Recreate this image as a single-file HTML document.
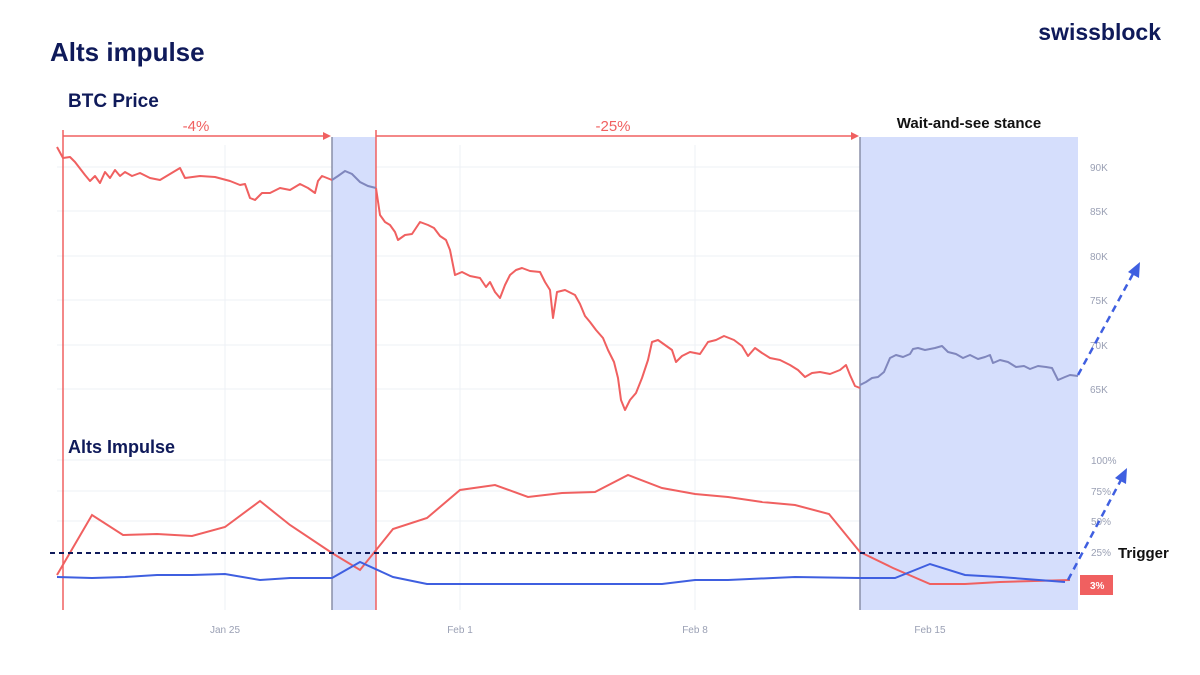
<!DOCTYPE html>
<html><head><meta charset="utf-8"><style>
body{margin:0;background:#fff;}
svg{display:block;font-family:"Liberation Sans",sans-serif;}
</style></head><body>
<svg width="1200" height="675" viewBox="0 0 1200 675">
<rect width="1200" height="675" fill="#fff"/>
<!-- grid -->
<g stroke="#eef0f5" stroke-width="1">
<line x1="57" y1="167" x2="1078" y2="167"/><line x1="57" y1="211" x2="1078" y2="211"/>
<line x1="57" y1="256" x2="1078" y2="256"/><line x1="57" y1="300" x2="1078" y2="300"/>
<line x1="57" y1="345" x2="1078" y2="345"/><line x1="57" y1="389" x2="1078" y2="389"/>
<line x1="57" y1="460" x2="1078" y2="460"/><line x1="57" y1="491" x2="1078" y2="491"/>
<line x1="57" y1="521" x2="1078" y2="521"/>
<line x1="225" y1="145" x2="225" y2="610"/><line x1="460" y1="145" x2="460" y2="610"/>
<line x1="695" y1="145" x2="695" y2="610"/><line x1="930" y1="145" x2="930" y2="610"/>
</g>
<!-- bands -->
<rect x="332" y="137" width="44" height="473" fill="#d5defc"/>
<rect x="860" y="137" width="218" height="473" fill="#d5defc"/>
<line x1="332" y1="137" x2="332" y2="610" stroke="#8a8fa8" stroke-width="1.5"/>
<line x1="860" y1="137" x2="860" y2="610" stroke="#8a8fa8" stroke-width="1.5"/>
<line x1="63" y1="130" x2="63" y2="610" stroke="#f06060" stroke-width="1.5"/>
<line x1="376" y1="130" x2="376" y2="610" stroke="#f06060" stroke-width="1.5"/>
<!-- top arrows -->
<g stroke="#f06060" stroke-width="1.5" fill="#f06060">
<line x1="63" y1="136" x2="326" y2="136"/><path d="M331,136 l-8,-4 v8z" stroke="none"/>
<line x1="376" y1="136" x2="854" y2="136"/><path d="M859,136 l-8,-4 v8z" stroke="none"/>
</g>
<text x="196" y="131" fill="#f06060" font-size="15" text-anchor="middle">-4%</text>
<text x="613" y="131" fill="#f06060" font-size="15" text-anchor="middle">-25%</text>
<!-- price line -->
<polyline fill="none" stroke="#f06060" stroke-width="2" stroke-linejoin="round" points="57,147 63,158 70,157 75,162 85,175 90,181 95,176 100,183 105,172 110,178 115,170 120,176 125,172 132,176 140,173 150,178 160,180 170,174 180,168 185,178 200,176 215,177 230,181 240,185 245,184 250,198 255,200 262,193 270,193 280,188 290,190 300,184 308,188 315,193 318,181 322,176 332,180"/>
<polyline fill="none" stroke="#8087bd" stroke-width="2" points="332,180 338,176 345,171 352,174 360,182 368,186 376,188"/>
<polyline fill="none" stroke="#f06060" stroke-width="2" stroke-linejoin="round" points="376,188 380,215 385,222 390,225 395,232 398,240 405,235 412,234 420,222 428,225 434,228 440,236 446,240 450,250 455,275 462,272 470,276 480,278 486,287 490,282 495,292 500,298 505,285 510,275 516,270 522,268 530,271 540,272 545,282 550,290 553,318 557,292 565,290 575,295 580,304 585,316 590,322 596,330 603,338 608,350 614,362 618,378 621,400 625,410 630,400 636,393 642,378 648,360 652,342 658,340 665,345 672,350 676,362 682,356 690,352 700,354 708,342 716,340 724,336 734,340 742,346 748,356 755,348 762,353 770,358 780,360 790,365 798,370 805,377 812,373 820,372 830,374 840,370 846,365 850,375 855,386 860,388"/>
<polyline fill="none" stroke="#8087bd" stroke-width="2" stroke-linejoin="round" points="860,385 866,382 872,378 878,377 884,372 890,358 896,355 903,357 910,354 913,349 918,348 925,350 935,348 942,346 948,352 956,354 963,358 970,355 978,359 985,357 990,355 993,363 1000,360 1008,362 1016,367 1024,366 1030,369 1038,366 1046,367 1052,368 1058,380 1065,377 1070,375 1078,376"/>
<!-- right axis labels -->
<g fill="#9aa0b4" font-size="10">
<text x="1090" y="171">90K</text><text x="1090" y="215">85K</text><text x="1090" y="260">80K</text>
<text x="1090" y="304">75K</text><text x="1090" y="349">70K</text><text x="1090" y="393">65K</text>
<text x="1091" y="464">100%</text><text x="1091" y="495">75%</text><text x="1091" y="525">50%</text><text x="1091" y="556">25%</text>
<text x="225" y="633" text-anchor="middle">Jan 25</text><text x="460" y="633" text-anchor="middle">Feb 1</text>
<text x="695" y="633" text-anchor="middle">Feb 8</text><text x="930" y="633" text-anchor="middle">Feb 15</text>
</g>
<!-- impulse -->
<polyline fill="none" stroke="#f06060" stroke-width="2" points="57,575 92,515 123,535 157,534 192,536 225,527 260,501 290,525 332,553 360,570 393,529 427,518 460,490 495,485 528,497 562,493 595,492 628,475 662,488 695,494 728,497 762,502 795,505 829,514 860,552 893,568 930,584 965,584 1000,582 1070,580"/>
<polyline fill="none" stroke="#3f5fe0" stroke-width="2" points="57,577 92,578 125,577 157,575 192,575 225,574 260,580 290,578 332,578 360,562 393,577 427,584 460,584 662,584 695,580 728,580 795,577 860,578 895,578 930,564 965,575 1000,577 1065,582"/>
<line x1="50" y1="553" x2="1080" y2="553" stroke="#0f1a5a" stroke-width="2" stroke-dasharray="5,4"/>
<rect x="1080" y="575" width="33" height="20" fill="#f06060"/>
<text x="1090" y="589" fill="#fff" font-size="10" font-weight="bold">3%</text>
<text x="1118" y="558" fill="#111" font-size="15" font-weight="bold">Trigger</text>
<!-- dashed arrows -->
<g stroke="#3f5fe0" stroke-width="2.5" stroke-dasharray="7,5" fill="none">
<line x1="1078" y1="375" x2="1134" y2="272"/>
<line x1="1068" y1="580" x2="1122" y2="478"/>
</g>
<path d="M1140,262 l-1,16 l-11,-6z" fill="#3f5fe0"/>
<path d="M1127,468 l-1,16 l-11,-6z" fill="#3f5fe0"/>
<!-- titles -->
<text x="50" y="61" fill="#0f1a5a" font-size="26" font-weight="bold">Alts impulse</text>
<text x="68" y="107" fill="#0f1a5a" font-size="19" font-weight="bold">BTC Price</text>
<text x="68" y="453" fill="#0f1a5a" font-size="18" font-weight="bold">Alts Impulse</text>
<text x="1161" y="40" fill="#0f1a5a" font-size="23" font-weight="bold" text-anchor="end">swissblock</text>
<text x="969" y="128" fill="#111" font-size="15" font-weight="bold" text-anchor="middle">Wait-and-see stance</text>
</svg>
</body></html>
